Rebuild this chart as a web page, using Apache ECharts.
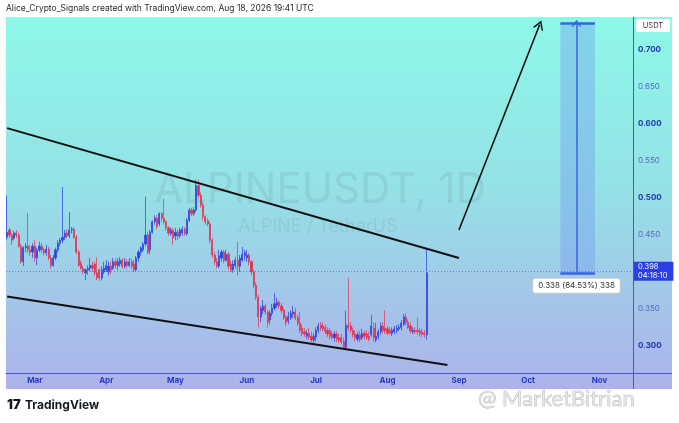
<!DOCTYPE html>
<html>
<head>
<meta charset="utf-8">
<script src="https://cdn.jsdelivr.net/npm/echarts@6/dist/echarts.min.js"></script>
<style>
html, body { margin: 0; padding: 0; background: #fff; }
#chart { width: 679px; height: 423px; }
</style>
</head>
<body>
<div id="chart"></div>
<script>
// daily candles ALPINEUSDT, 17 Feb 2026 -> 18 Aug 2026, axis runs on to mid Nov
var firstDay = [2026, 1, 17];
var dayCount = 272;
var monthNames = ['Jan', 'Feb', 'Mar', 'Apr', 'May', 'Jun', 'Jul', 'Aug', 'Sep', 'Oct', 'Nov', 'Dec'];

var opens = [
    0.446, 0.456, 0.449, 0.445, 0.452, 0.449, 0.434, 0.413, 0.432, 0.434,
    0.429, 0.426, 0.434, 0.418, 0.429, 0.434, 0.429, 0.425, 0.430, 0.418,
    0.408, 0.418, 0.429, 0.438, 0.442, 0.446, 0.452, 0.448, 0.456, 0.457,
    0.446, 0.426, 0.411, 0.404, 0.398, 0.402, 0.404, 0.408, 0.410, 0.398,
    0.402, 0.391, 0.399, 0.402, 0.399, 0.407, 0.404, 0.413, 0.408, 0.410,
    0.415, 0.407, 0.413, 0.408, 0.413, 0.410, 0.402, 0.418, 0.426, 0.429,
    0.437, 0.449, 0.429, 0.453, 0.467, 0.472, 0.464, 0.478, 0.472, 0.467,
    0.459, 0.451, 0.456, 0.448, 0.453, 0.448, 0.452, 0.457, 0.451, 0.469,
    0.483, 0.478, 0.483, 0.516, 0.503, 0.490, 0.474, 0.469, 0.464, 0.442,
    0.422, 0.413, 0.407, 0.418, 0.426, 0.415, 0.423, 0.410, 0.402, 0.408,
    0.415, 0.407, 0.415, 0.421, 0.418, 0.422, 0.413, 0.399, 0.381, 0.365,
    0.338, 0.347, 0.353, 0.345, 0.334, 0.343, 0.350, 0.354, 0.358, 0.353,
    0.347, 0.337, 0.333, 0.337, 0.342, 0.345, 0.337, 0.330, 0.323, 0.318,
    0.312, 0.316, 0.312, 0.307, 0.311, 0.320, 0.327, 0.326, 0.324, 0.320,
    0.319, 0.315, 0.310, 0.315, 0.310, 0.310, 0.305, 0.297, 0.327, 0.326,
    0.320, 0.315, 0.308, 0.314, 0.310, 0.316, 0.315, 0.312, 0.314, 0.323,
    0.307, 0.312, 0.318, 0.326, 0.323, 0.322, 0.320, 0.316, 0.318, 0.320,
    0.322, 0.324, 0.328, 0.338, 0.331, 0.326, 0.318, 0.320, 0.320, 0.319,
    0.318, 0.316, 0.314
];
var closes = [
    0.453, 0.449, 0.442, 0.452, 0.449, 0.434, 0.413, 0.432, 0.434, 0.429,
    0.426, 0.434, 0.418, 0.429, 0.434, 0.429, 0.425, 0.430, 0.418, 0.408,
    0.418, 0.429, 0.438, 0.442, 0.446, 0.452, 0.448, 0.456, 0.457, 0.446,
    0.426, 0.408, 0.404, 0.400, 0.402, 0.404, 0.408, 0.404, 0.398, 0.391,
    0.391, 0.402, 0.404, 0.408, 0.407, 0.402, 0.413, 0.408, 0.413, 0.415,
    0.407, 0.413, 0.408, 0.413, 0.407, 0.402, 0.418, 0.426, 0.432, 0.437,
    0.449, 0.426, 0.453, 0.467, 0.472, 0.461, 0.478, 0.472, 0.467, 0.459,
    0.452, 0.456, 0.445, 0.453, 0.448, 0.456, 0.457, 0.451, 0.469, 0.483,
    0.478, 0.483, 0.516, 0.503, 0.490, 0.474, 0.467, 0.464, 0.442, 0.422,
    0.413, 0.407, 0.421, 0.426, 0.415, 0.423, 0.407, 0.402, 0.410, 0.415,
    0.407, 0.418, 0.423, 0.425, 0.422, 0.413, 0.399, 0.381, 0.365, 0.338,
    0.350, 0.353, 0.345, 0.331, 0.343, 0.350, 0.356, 0.358, 0.353, 0.347,
    0.337, 0.330, 0.339, 0.343, 0.345, 0.337, 0.330, 0.320, 0.316, 0.315,
    0.316, 0.311, 0.307, 0.312, 0.320, 0.326, 0.323, 0.322, 0.319, 0.315,
    0.312, 0.310, 0.315, 0.308, 0.307, 0.304, 0.297, 0.327, 0.323, 0.320,
    0.314, 0.310, 0.314, 0.308, 0.316, 0.312, 0.310, 0.308, 0.326, 0.310,
    0.312, 0.318, 0.326, 0.320, 0.319, 0.316, 0.316, 0.320, 0.322, 0.323,
    0.324, 0.330, 0.338, 0.331, 0.324, 0.319, 0.320, 0.318, 0.318, 0.316,
    0.315, 0.314, 0.398
];
var lows = [
    0.442, 0.445, 0.436, 0.442, 0.445, 0.432, 0.410, 0.407, 0.426, 0.425,
    0.421, 0.418, 0.413, 0.408, 0.426, 0.425, 0.421, 0.421, 0.415, 0.404,
    0.406, 0.415, 0.426, 0.434, 0.438, 0.442, 0.445, 0.445, 0.451, 0.444,
    0.423, 0.406, 0.402, 0.396, 0.388, 0.395, 0.400, 0.399, 0.394, 0.388,
    0.387, 0.388, 0.396, 0.399, 0.394, 0.396, 0.402, 0.404, 0.402, 0.406,
    0.404, 0.404, 0.404, 0.406, 0.403, 0.399, 0.399, 0.413, 0.421, 0.426,
    0.434, 0.423, 0.423, 0.451, 0.463, 0.457, 0.461, 0.467, 0.463, 0.455,
    0.448, 0.448, 0.436, 0.442, 0.442, 0.445, 0.448, 0.448, 0.448, 0.467,
    0.475, 0.475, 0.480, 0.499, 0.486, 0.469, 0.463, 0.461, 0.438, 0.418,
    0.408, 0.404, 0.404, 0.413, 0.411, 0.413, 0.402, 0.399, 0.398, 0.404,
    0.394, 0.399, 0.413, 0.415, 0.413, 0.408, 0.395, 0.377, 0.361, 0.324,
    0.331, 0.342, 0.341, 0.324, 0.328, 0.339, 0.347, 0.350, 0.349, 0.343,
    0.334, 0.326, 0.328, 0.334, 0.337, 0.334, 0.326, 0.316, 0.312, 0.311,
    0.308, 0.307, 0.304, 0.301, 0.305, 0.316, 0.319, 0.318, 0.315, 0.311,
    0.308, 0.307, 0.305, 0.304, 0.303, 0.301, 0.295, 0.295, 0.319, 0.316,
    0.310, 0.305, 0.305, 0.304, 0.307, 0.308, 0.307, 0.305, 0.311, 0.305,
    0.304, 0.308, 0.314, 0.316, 0.315, 0.314, 0.314, 0.312, 0.315, 0.316,
    0.319, 0.320, 0.326, 0.327, 0.322, 0.316, 0.315, 0.315, 0.314, 0.312,
    0.311, 0.310, 0.307
];
var highs = [
    0.503, 0.459, 0.452, 0.455, 0.456, 0.452, 0.437, 0.434, 0.438, 0.479,
    0.436, 0.438, 0.442, 0.432, 0.440, 0.438, 0.432, 0.436, 0.433, 0.422,
    0.422, 0.432, 0.442, 0.445, 0.514, 0.456, 0.457, 0.480, 0.460, 0.460,
    0.449, 0.429, 0.415, 0.408, 0.404, 0.408, 0.418, 0.413, 0.413, 0.419,
    0.404, 0.407, 0.413, 0.415, 0.413, 0.413, 0.418, 0.417, 0.418, 0.419,
    0.418, 0.418, 0.417, 0.418, 0.417, 0.415, 0.421, 0.429, 0.434, 0.440,
    0.501, 0.453, 0.456, 0.469, 0.476, 0.476, 0.480, 0.480, 0.498, 0.469,
    0.461, 0.459, 0.459, 0.459, 0.456, 0.459, 0.461, 0.460, 0.472, 0.486,
    0.486, 0.487, 0.524, 0.524, 0.507, 0.493, 0.476, 0.472, 0.467, 0.445,
    0.426, 0.418, 0.429, 0.429, 0.429, 0.429, 0.426, 0.415, 0.415, 0.419,
    0.440, 0.422, 0.433, 0.429, 0.429, 0.425, 0.415, 0.402, 0.385, 0.368,
    0.353, 0.361, 0.356, 0.347, 0.347, 0.356, 0.371, 0.364, 0.361, 0.357,
    0.350, 0.341, 0.345, 0.347, 0.353, 0.350, 0.341, 0.345, 0.328, 0.323,
    0.320, 0.323, 0.318, 0.316, 0.324, 0.330, 0.331, 0.331, 0.328, 0.324,
    0.323, 0.320, 0.319, 0.319, 0.315, 0.315, 0.310, 0.347, 0.391, 0.331,
    0.324, 0.320, 0.318, 0.319, 0.322, 0.320, 0.320, 0.318, 0.341, 0.331,
    0.330, 0.322, 0.331, 0.331, 0.347, 0.326, 0.324, 0.324, 0.326, 0.327,
    0.328, 0.334, 0.342, 0.343, 0.335, 0.330, 0.324, 0.324, 0.337, 0.323,
    0.322, 0.320, 0.430
];

// drawings (category index, price)
var upperTrend = [[0, 0.594], [196, 0.418]];
var lowerTrend = [[0, 0.366], [191, 0.273]];
var arrowLine = [[196, 0.456], [231, 0.734]];
var measureX = [240, 255, 247];
var measureY = [0.398, 0.736];
var lastPrice = 0.398;

var categories = [];
var dt = new Date(Date.UTC(firstDay[0], firstDay[1], firstDay[2]));
for (var i = 0; i < dayCount; i++) {
    categories.push(dt.toISOString().slice(0, 10));
    dt.setUTCDate(dt.getUTCDate() + 1);
}
var candles = opens.map(function (o, i) {
    return [o, closes[i], lows[i], highs[i]];
});

var chevron = 'path://M0,10 L5,0 L10,10 L8.4,10 L5,3.2 L1.6,10 Z';
var trendStyle = { color: '#111', width: 2, type: 'solid' };
var blueStyle = { color: '#3a63e0', width: 1.5, type: 'solid' };

var chart = echarts.init(document.getElementById('chart'));
chart.setOption({
    animation: false,
    grid: { left: 6, right: 46, top: 13, bottom: 41 },
    graphic: [
        {
            type: 'rect', z: -1,
            shape: { x: 6, y: 17, width: 666, height: 372 },
            style: {
                fill: {
                    type: 'linear', x: 0, y: 0, x2: 0, y2: 1,
                    colorStops: [
                        { offset: 0, color: '#8ef8e8' },
                        { offset: 0.45, color: '#94e2e6' },
                        { offset: 0.75, color: '#a3c7e9' },
                        { offset: 1, color: '#adb2ea' }
                    ]
                }
            }
        },
        { type: 'rect', z: 50, shape: { x: 0, y: 0, width: 679, height: 17 }, style: { fill: '#fff' } },
        {
            type: 'text', z: 51, x: 6, y: 4,
            style: { text: 'Alice_Crypto_Signals created with TradingView.com, Aug 18, 2026 19:41 UTC', fontSize: 8.5, fontFamily: 'Inter', fill: '#2a2a2a' }
        },
        { type: 'line', z: 5, shape: { x1: 633, y1: 373.5, x2: 672, y2: 373.5 }, style: { stroke: '#4457d4', lineWidth: 1 } },
        { type: 'line', z: 5, shape: { x1: 633.5, y1: 17, x2: 633.5, y2: 389 }, style: { stroke: '#4457d4', lineWidth: 1 } },
        { type: 'rect', z: 51, shape: { x: 636, y: 19, width: 34, height: 13, r: 2 }, style: { fill: '#fff' } },
        {
            type: 'text', z: 52, x: 653, y: 25.5,
            style: { text: 'USDT', fontSize: 7.5, fontFamily: 'Inter', fill: '#333', align: 'center', verticalAlign: 'middle' }
        },
        {
            type: 'text', z: 3, x: 320, y: 190,
            style: { text: 'ALPINEUSDT, 1D', fontSize: 42, fontFamily: 'Inter', fill: 'rgba(90,105,115,0.13)', align: 'center', verticalAlign: 'middle' }
        },
        {
            type: 'text', z: 3, x: 318, y: 227,
            style: { text: 'ALPINE / TetherUS', fontSize: 18, fontFamily: 'Inter', fill: 'rgba(90,105,115,0.13)', align: 'center', verticalAlign: 'middle' }
        },
        {
            type: 'text', z: 51, x: 7, y: 399,
            style: { text: '17', fontSize: 13, fontWeight: 900, fontFamily: 'Inter', fill: '#131722' }
        },
        {
            type: 'text', z: 51, x: 25, y: 399,
            style: { text: 'TradingView', fontSize: 12, fontWeight: 'bold', fontFamily: 'Inter', fill: '#131722' }
        },
        {
            type: 'rect', z: 51, x: 462, y: 398, rotation: Math.PI / 4, originX: 462, originY: 398,
            shape: { x: 455, y: 391, width: 14, height: 14 },
            style: { fill: 'none', stroke: 'rgba(170,170,170,0.7)', lineWidth: 2 }
        },
        {
            type: 'text', z: 51, x: 478, y: 388,
            style: { text: '@ MarketBitrian', fontSize: 22, fontFamily: 'Lato', fill: 'rgba(225,225,225,0.8)', stroke: 'rgba(150,150,150,0.8)', lineWidth: 0.6 }
        }
    ],
    xAxis: {
        type: 'category',
        data: categories,
        boundaryGap: true,
        offset: -9,
        axisLine: { lineStyle: { color: '#4457d4', width: 1 } },
        axisTick: { show: false },
        splitLine: { show: false },
        axisLabel: {
            interval: function (idx, val) { return val.slice(8) === '01'; },
            formatter: function (val) { return monthNames[parseInt(val.slice(5, 7), 10) - 1]; },
            color: '#2536c8',
            fontSize: 8,
            fontWeight: 'bold',
            fontFamily: 'Inter',
            margin: 4
        }
    },
    yAxis: {
        type: 'value',
        position: 'right',
        min: 0.25,
        max: 0.75,
        interval: 0.05,
        axisLine: { show: false },
        axisTick: { show: false },
        splitLine: { show: false },
        axisLabel: {
            showMinLabel: false,
            showMaxLabel: false,
            margin: 5,
            formatter: function (v) {
                var s = v.toFixed(3);
                return Math.round(v * 100) % 10 === 0 ? '{b|' + s + '}' : '{n|' + s + '}';
            },
            rich: {
                b: { fontSize: 8, fontWeight: 'bold', color: '#2233b4', fontFamily: 'Inter' },
                n: { fontSize: 8, color: '#5865c6', fontFamily: 'Inter' }
            }
        }
    },
    series: [{
        type: 'candlestick',
        data: candles,
        barWidth: '72%',
        itemStyle: {
            color: '#2a3fe2',
            color0: '#e62e4d',
            borderColor: '#2a3fe2',
            borderColor0: '#e62e4d',
            borderWidth: 0.7
        },
        markArea: {
            silent: true,
            data: [[
                { coord: [measureX[0], measureY[1]], itemStyle: { color: 'rgba(112,150,238,0.38)' } },
                { coord: [measureX[1], measureY[0]] }
            ]]
        },
        markPoint: {
            silent: true,
            data: [{
                coord: [measureX[2], measureY[0]],
                symbol: 'rect',
                symbolSize: 1,
                itemStyle: { color: 'rgba(0,0,0,0)' },
                label: {
                    show: true,
                    formatter: '0.338 (84.53%) 338',
                    offset: [0, 13],
                    fontSize: 8,
                    fontFamily: 'Inter',
                    color: '#333',
                    backgroundColor: '#fff',
                    borderColor: '#c9c9c9',
                    borderWidth: 1,
                    borderRadius: 2,
                    padding: [3, 5]
                }
            }]
        },
        markLine: {
            silent: true,
            symbol: 'none',
            label: { show: false },
            data: [
                [{ coord: upperTrend[0], lineStyle: trendStyle }, { coord: upperTrend[1], lineStyle: trendStyle }],
                [{ coord: lowerTrend[0], lineStyle: trendStyle }, { coord: lowerTrend[1], lineStyle: trendStyle }],
                [
                    { coord: arrowLine[0], symbol: 'none', lineStyle: { color: '#111', width: 1.6, type: 'solid' } },
                    { coord: arrowLine[1], symbol: chevron, symbolSize: [11, 9], itemStyle: { color: '#111' }, lineStyle: { color: '#111', width: 1.6, type: 'solid' } }
                ],
                [
                    { coord: [measureX[2], measureY[0]], symbol: 'none', lineStyle: blueStyle },
                    { coord: [measureX[2], measureY[1]], symbol: chevron, symbolSize: [10, 7], itemStyle: { color: '#3a63e0' }, lineStyle: blueStyle }
                ],
                [{ coord: [measureX[0], measureY[1]], lineStyle: { color: '#3a63e0', width: 2.5, type: 'solid' } }, { coord: [measureX[1], measureY[1]], lineStyle: { color: '#3a63e0', width: 2.5, type: 'solid' } }],
                [{ coord: [measureX[0], measureY[0]], lineStyle: { color: '#3a63e0', width: 2.5, type: 'solid' } }, { coord: [measureX[1], measureY[0]], lineStyle: { color: '#3a63e0', width: 2.5, type: 'solid' } }],
                {
                    yAxis: lastPrice,
                    lineStyle: { color: '#6a78cc', width: 1, type: [1, 2] },
                    label: {
                        show: true,
                        position: 'end',
                        distance: 1,
                        formatter: '0.398\n04:18:10',
                        fontSize: 7.5,
                        lineHeight: 8.5,
                        fontFamily: 'Inter',
                        color: '#fff',
                        backgroundColor: '#2b3fe6',
                        padding: [1, 6, 1, 4]
                    }
                }
            ]
        }
    }]
});
</script>
</body>
</html>
